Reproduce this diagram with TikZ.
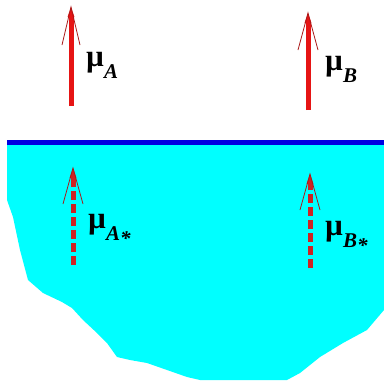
\documentclass[tikz,border=0pt]{standalone}
\usepackage{fontspec}
\setmainfont{Liberation Serif}
\usetikzlibrary{arrows.meta}

\definecolor{liquid}{RGB}{0,255,255}
\definecolor{surface}{RGB}{0,0,225}
\definecolor{momred}{RGB}{230,20,20}
\definecolor{dashred}{RGB}{205,35,35}
\definecolor{barbred}{RGB}{170,25,25}

\newcommand{\mulab}[1]{{\bfseries ^^^^00b5}\raisebox{-0.4em}{\fontsize{21}{21}\selectfont\bfseries\itshape #1}}
\newcommand{\stared}{\raisebox{-0.25em}{*}}

\tikzset{
  moment/.style={line width=5pt, momred, -{Triangle[length=10pt,width=7pt,line width=0pt]}},
  dashmoment/.style={moment, dashred, dash pattern=on 9pt off 4pt},
  barb/.style={line width=0.8pt, barbred},
  mulabel/.style={inner sep=0pt, anchor=base west, font=\fontsize{31}{31}\selectfont}
}

\begin{document}
\begin{tikzpicture}[x=1pt, y=-1pt]
            \useasboundingbox (0,0) rectangle (384,383);

            % Liquid below the surface
            \fill[liquid] (7,145) -- (7,200) -- (13,217) -- (20,250) -- (28,280)
              -- (43,293) -- (62,302) -- (72,308) -- (83,320) -- (97,333)
              -- (107,343) -- (117,357) -- (130,360) -- (147,363) -- (167,370)
              -- (187,377) -- (200,380) -- (287,380) -- (300,373) -- (320,357)
              -- (343,343) -- (367,330) -- (384,310) -- (384,145) -- cycle;

            % Surface line
            \draw[surface, line width=4.5pt] (7,142.5) -- (384,142.5);

            % Moments above the surface
            \coordinate (baseA) at (71,106);
            \coordinate (tipA) at (71,7);
            \coordinate (baseB) at (308,110);
            \coordinate (tipB) at (308,13);
            \draw[moment] (baseA) -- (tipA);
            \draw[moment] (baseB) -- (tipB);
            \draw[barb] (tipA) ++(-9,38) -- (tipA) -- ++(9,38);
            \draw[barb] (tipB) ++(-10,37) -- (tipB) -- ++(10,37);

            % Moments inside the liquid
            \coordinate (baseAs) at (73,265);
            \coordinate (tipAs) at (73,168);
            \coordinate (baseBs) at (310,268);
            \coordinate (tipBs) at (310,174);
            \draw[dashmoment] (baseAs) -- (tipAs);
            \draw[dashmoment] (baseBs) -- (tipBs);
            \draw[barb] (tipAs) ++(-10,36) -- (tipAs) -- ++(10,36);
            \draw[barb] (tipBs) ++(-10,36) -- (tipBs) -- ++(10,36);

            % Labels
            \node[mulabel] (labA) at (86,66) {\mulab{A}};
            \node[mulabel] (labB) at (325,70) {\mulab{B}};
            \node[mulabel] (labAs) at (88,228) {\mulab{A\stared}};
            \node[mulabel] (labBs) at (325,235) {\mulab{B\stared}};

        \end{tikzpicture}
\end{document}
